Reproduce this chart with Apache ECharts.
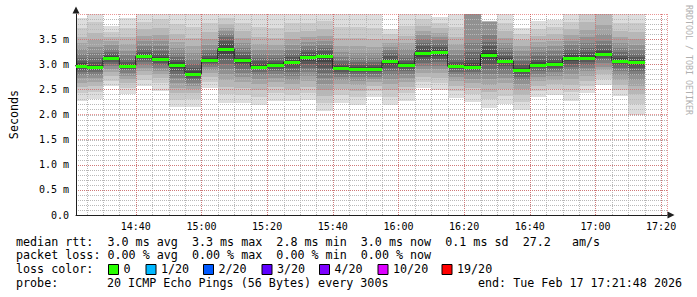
<!DOCTYPE html>
<html><head><meta charset="utf-8">
<script src="https://cdn.jsdelivr.net/npm/echarts@6/dist/echarts.min.js"></script>
<style>html,body{margin:0;padding:0;background:#fff}#c{width:697px;height:297px}</style>
</head><body><div id="c"></div>
<script>
// ---- data ----
const binEnd = ['14:25','14:30','14:35','14:40','14:45','14:50','14:55','15:00','15:05','15:10','15:15','15:20','15:25','15:30','15:35','15:40','15:45','15:50','15:55','16:00','16:05','16:10','16:15','16:20','16:25','16:30','16:35','16:40','16:45','16:50','16:55','17:00','17:05','17:10','17:15'];
const medians = [2.97,2.94,3.12,2.97,3.16,3.10,2.98,2.81,3.08,3.31,3.08,2.95,2.99,3.04,3.14,3.16,2.92,2.90,2.90,3.06,2.98,3.23,3.25,2.96,2.95,3.19,3.07,2.88,2.99,3.00,3.12,3.13,3.21,3.07,3.04];
const pings = [
[2.27,2.42,2.55,2.63,2.72,2.78,2.84,2.89,2.93,2.96,2.98,3.02,3.06,3.12,3.20,3.30,3.42,3.55,3.72,3.92],
[2.31,2.45,2.56,2.65,2.72,2.79,2.84,2.88,2.91,2.93,2.95,2.99,3.05,3.13,3.22,3.34,3.48,3.62,3.85,4.15],
[2.56,2.66,2.76,2.84,2.90,2.96,3.00,3.04,3.08,3.11,3.13,3.16,3.20,3.25,3.31,3.38,3.46,3.54,3.64,3.77],
[2.41,2.52,2.62,2.70,2.77,2.83,2.88,2.91,2.94,2.96,2.98,3.01,3.05,3.11,3.18,3.27,3.40,3.55,3.72,3.93],
[2.56,2.68,2.78,2.86,2.93,2.99,3.04,3.09,3.12,3.15,3.17,3.20,3.24,3.30,3.37,3.46,3.57,3.70,3.85,4.05],
[2.47,2.62,2.72,2.80,2.87,2.93,2.98,3.02,3.06,3.09,3.11,3.15,3.20,3.27,3.36,3.46,3.58,3.72,3.90,4.10],
[2.14,2.28,2.42,2.53,2.63,2.72,2.80,2.87,2.92,2.96,3.00,3.04,3.09,3.15,3.23,3.32,3.44,3.60,3.80,4.10],
[2.14,2.30,2.42,2.50,2.57,2.63,2.68,2.73,2.77,2.80,2.82,2.86,2.92,3.00,3.10,3.22,3.36,3.52,3.75,4.10],
[2.53,2.64,2.74,2.82,2.88,2.94,2.99,3.03,3.06,3.07,3.09,3.12,3.16,3.22,3.29,3.38,3.50,3.64,3.82,4.10],
[2.23,2.40,2.55,2.68,2.80,2.90,3.00,3.10,3.20,3.28,3.33,3.40,3.47,3.54,3.60,3.66,3.72,3.80,3.92,4.15],
[2.23,2.38,2.52,2.64,2.74,2.83,2.91,2.98,3.03,3.07,3.09,3.13,3.18,3.25,3.33,3.42,3.53,3.66,3.82,4.05],
[2.19,2.34,2.48,2.60,2.70,2.78,2.85,2.90,2.93,2.94,2.96,3.00,3.06,3.13,3.20,3.29,3.40,3.55,3.75,4.05],
[2.27,2.42,2.55,2.65,2.73,2.80,2.86,2.91,2.95,2.98,3.00,3.03,3.07,3.12,3.19,3.28,3.39,3.53,3.72,4.05],
[2.27,2.38,2.50,2.60,2.68,2.76,2.84,2.92,2.98,3.03,3.05,3.09,3.14,3.20,3.28,3.38,3.50,3.64,3.82,4.05],
[2.29,2.42,2.55,2.66,2.76,2.85,2.93,3.00,3.07,3.12,3.15,3.19,3.24,3.30,3.37,3.45,3.55,3.67,3.83,4.05],
[2.07,2.22,2.36,2.48,2.60,2.72,2.83,2.93,3.05,3.14,3.17,3.21,3.26,3.32,3.39,3.47,3.57,3.70,3.86,4.10],
[2.23,2.38,2.50,2.60,2.68,2.75,2.80,2.85,2.89,2.91,2.93,2.96,3.00,3.06,3.14,3.24,3.36,3.52,3.74,4.05],
[2.19,2.34,2.47,2.58,2.67,2.74,2.80,2.84,2.87,2.89,2.91,2.94,2.99,3.05,3.13,3.23,3.36,3.52,3.74,4.05],
[2.34,2.46,2.56,2.64,2.70,2.75,2.80,2.84,2.87,2.89,2.91,2.94,2.98,3.04,3.12,3.22,3.35,3.50,3.72,4.05],
[2.19,2.35,2.48,2.60,2.70,2.78,2.86,2.93,2.99,3.04,3.07,3.11,3.16,3.22,3.28,3.35,3.43,3.51,3.60,3.70],
[2.27,2.42,2.55,2.65,2.73,2.80,2.86,2.91,2.95,2.97,2.99,3.02,3.06,3.12,3.20,3.30,3.42,3.57,3.76,4.05],
[2.53,2.64,2.74,2.83,2.90,2.96,3.02,3.08,3.14,3.20,3.25,3.30,3.36,3.43,3.50,3.58,3.67,3.77,3.90,4.05],
[2.49,2.62,2.73,2.82,2.90,2.97,3.04,3.10,3.16,3.22,3.26,3.30,3.35,3.41,3.48,3.55,3.63,3.72,3.83,3.95],
[2.33,2.46,2.57,2.66,2.74,2.80,2.85,2.90,2.93,2.95,2.97,3.00,3.05,3.11,3.19,3.28,3.40,3.55,3.75,4.05],
[2.25,2.40,2.52,2.62,2.71,2.78,2.84,2.89,2.92,2.94,2.96,3.02,3.12,3.25,3.42,4.30,4.60,5.00,5.50,6.00],
[2.13,2.30,2.45,2.58,2.70,2.80,2.90,3.00,3.08,3.16,3.22,3.28,3.36,3.45,3.58,3.84,3.85,3.86,3.865,3.87],
[2.21,2.36,2.50,2.62,2.72,2.81,2.89,2.96,3.02,3.06,3.08,3.12,3.17,3.24,3.32,3.42,3.53,3.66,3.82,4.00],
[2.09,2.24,2.38,2.50,2.60,2.68,2.75,2.80,2.84,2.87,2.89,2.93,2.99,3.07,3.16,3.26,3.37,3.48,3.60,3.73],
[2.34,2.46,2.57,2.66,2.74,2.81,2.87,2.92,2.95,2.98,3.00,3.04,3.09,3.16,3.24,3.34,3.45,3.57,3.70,3.86],
[2.38,2.50,2.60,2.69,2.77,2.84,2.89,2.93,2.97,2.99,3.01,3.05,3.10,3.17,3.26,3.36,3.47,3.60,3.74,3.88],
[2.27,2.44,2.58,2.70,2.80,2.88,2.95,3.01,3.06,3.10,3.14,3.18,3.23,3.30,3.38,3.47,3.58,3.70,3.85,4.05],
[2.43,2.56,2.67,2.77,2.86,2.93,2.99,3.05,3.09,3.12,3.14,3.18,3.24,3.32,3.42,3.54,3.68,3.85,4.05,4.30],
[2.59,2.70,2.80,2.88,2.95,3.02,3.08,3.13,3.17,3.20,3.22,3.26,3.31,3.38,3.47,3.60,3.78,4.10,4.40,4.80],
[2.36,2.48,2.59,2.69,2.78,2.86,2.93,2.99,3.03,3.06,3.08,3.12,3.17,3.24,3.32,3.42,3.54,3.67,3.83,4.05],
[1.99,2.20,2.40,2.56,2.68,2.78,2.86,2.93,2.98,3.02,3.05,3.09,3.14,3.21,3.29,3.39,3.50,3.64,3.82,4.05]
];
const xTickLabels = ['14:40','15:00','15:20','15:40','16:00','16:20','16:40','17:00','17:20'];
const yTickLabels = ['0.0','0.5 m','1.0 m','1.5 m','2.0 m','2.5 m','3.0 m','3.5 m'];
const endTime = '17:21:48';
const windowMinutes = 180;
const binMinutes = 5;
const minorXStep = 5, minorYStep = 0.1;
const rttStats = ['3.0 ms avg','3.3 ms max','2.8 ms min','3.0 ms now','0.1 ms sd','27.2   am/s'];
const lossStats = ['0.00 % avg','0.00 % max','0.00 % min','0.00 % now'];
const lossLabels = ['0','1/20','2/20','3/20','4/20','10/20','19/20'];
const lossColors = ['#26ff00','#00b8ff','#0059ff','#5e00ff','#7e00ff','#dd00ff','#ff0000'];
const probeText = '20 ICMP Echo Pings (56 Bytes) every 300s';
const endText = 'end: Tue Feb 17 17:21:48 2026';
const yName = 'Seconds';
const watermark = 'RRDTOOL / TOBI OETIKER';

// ---- helpers ----
function toMin(s){const p=s.split(':').map(Number);return p[0]*60+p[1]+(p[2]||0)/60;}
function fmtMin(v){const h=Math.floor(v/60),m=Math.round(v-h*60);return String(h).padStart(2,'0')+':'+String(m).padStart(2,'0');}
const xMax = toMin(endTime), xMin = xMax - windowMinutes;
const yMin = 0, yMax = 4;
const MONO = '"DejaVu Sans Mono", monospace';

const smokeData = binEnd.map((e,i)=>[toMin(e)-binMinutes, toMin(e)].concat(pings[i]));
const medData = binEnd.map((e,i)=>[toMin(e)-binMinutes, toMin(e), medians[i]]);
const stepData = [];
binEnd.forEach((e,i)=>{stepData.push([toMin(e)-binMinutes, medians[i]]);stepData.push([toMin(e), medians[i]]);});

// minor grid positions (grid, not data)
const minorV = [], minorH = [];
for(let t=Math.ceil(xMin/minorXStep)*minorXStep; t<xMax; t+=minorXStep) minorV.push([t, 2]);
for(let k=1; k*minorYStep<yMax-1e-9; k++) minorH.push([900, +(k*minorYStep).toFixed(2)]);

function clipBox(x0,y0,x1,y1,cs){
  const L=cs.x,T=cs.y,R=cs.x+cs.width,B=cs.y+cs.height;
  const a=Math.max(Math.min(x0,x1),L), b=Math.min(Math.max(x0,x1),R);
  const c=Math.max(Math.min(y0,y1),T), d=Math.min(Math.max(y0,y1),B);
  if(b<=a||d<=c) return null;
  return {x:a,y:c,width:b-a,height:d-c};
}

const chart = echarts.init(document.getElementById('c'), null, {renderer:'svg'});
const legendFont = '11.7px ' + MONO;
const rowY = [241.5, 255.3, 269, 282.7];
const graphics = [];
graphics.push({type:'text', x:16, y:rowY[0], style:{text:'median rtt:  '+rttStats.join('  '), font:legendFont, fill:'#000', textVerticalAlign:'middle'}});
graphics.push({type:'text', x:16, y:rowY[1], style:{text:'packet loss: '+lossStats.join('  '), font:legendFont, fill:'#000', textVerticalAlign:'middle'}});
graphics.push({type:'text', x:16, y:rowY[2], style:{text:'loss color:', font:legendFont, fill:'#000', textVerticalAlign:'middle'}});
const swX = [108.5,146,203.5,262,319.5,378,442];
lossLabels.forEach((l,i)=>{
  graphics.push({type:'rect', shape:{x:swX[i], y:264.5, width:10, height:10}, style:{fill:lossColors[i], stroke:'#000', lineWidth:1}});
  graphics.push({type:'text', x:swX[i]+15, y:rowY[2], style:{text:l, font:legendFont, fill:'#000', textVerticalAlign:'middle'}});
});
graphics.push({type:'text', x:16, y:rowY[3], style:{text:'probe:', font:legendFont, fill:'#000', textVerticalAlign:'middle'}});
graphics.push({type:'text', x:107, y:rowY[3], style:{text:probeText, font:legendFont, fill:'#000', textVerticalAlign:'middle'}});
graphics.push({type:'text', x:478, y:rowY[3], style:{text:endText, font:legendFont, fill:'#000', textVerticalAlign:'middle'}});
graphics.push({type:'text', x:688.5, y:5, rotation:-Math.PI/2, style:{text:watermark, font:'8.3px '+MONO, fill:'#b0b0b0', textVerticalAlign:'middle', textAlign:'left'}});

const gridColor = '#b8b8b8';
const mgridColor = 'rgba(222,79,79,0.6)';

function gridLineItem(vertical){
  return (params, api)=>{
    const cs=params.coordSys; const p=api.coord([api.value(0), api.value(1)]);
    let shape;
    if(vertical){ const x=Math.round(p[0])+0.5; shape={x1:x,y1:cs.y,x2:x,y2:cs.y+cs.height}; }
    else { const y=Math.round(p[1])+0.5; shape={x1:cs.x,y1:y,x2:cs.x+cs.width,y2:y}; }
    return {type:'line', shape, style:{stroke:gridColor, lineWidth:1, lineDash:[1,1]}};
  };
}

chart.setOption({
  animation:false,
  backgroundColor:'#fff',
  grid:{left:67, top:14, right:30, bottom:82},
  xAxis:{
    type:'value', min:xMin, max:xMax, splitNumber:9, minInterval:20, maxInterval:20, z:4,
    axisLine:{show:true, onZero:false, symbol:['none','triangle'], symbolSize:[7,7], symbolOffset:[0,4], lineStyle:{color:'#1f1f1f', width:1}},
    axisTick:{show:false},
    axisLabel:{show:true, margin:6, fontSize:10, fontFamily:MONO, color:'#000',
      formatter:v=>{const s=fmtMin(v);return (Math.abs(v-Math.round(v))<1e-6 && xTickLabels.indexOf(s)>=0)?s:'';}},
    splitLine:{show:true, lineStyle:{color:mgridColor, type:[1,1], width:1}}
  },
  yAxis:{
    type:'value', min:yMin, max:yMax, interval:0.5, z:4,
    name:yName, nameLocation:'middle', nameGap:56, nameTextStyle:{fontFamily:MONO, fontSize:11.7, color:'#000'},
    axisLine:{show:true, onZero:false, symbol:['none','triangle'], symbolSize:[7,7], symbolOffset:[0,4], lineStyle:{color:'#1f1f1f', width:1}},
    axisTick:{show:false},
    axisLabel:{margin:7, fontSize:10, fontFamily:MONO, color:'#000',
      formatter:v=>{const i=Math.round(v/0.5);return (Math.abs(v-i*0.5)<1e-6 && i<yTickLabels.length)?yTickLabels[i]:'';}},
    splitLine:{show:true, lineStyle:{color:mgridColor, type:[1,1], width:1}}
  },
  series:[{
    type:'custom', z:2, data:smokeData,
    encode:{x:[0,1], y:[2,3,4,5,6,7,8,9,10,11,12,13,14,15,16,17,18,19,20,21]},
    renderItem:(params, api)=>{
      const cs=params.coordSys; const s=api.value(0), e=api.value(1);
      const children=[];
      for(let band=1; band<=10; band++){
        const lo=api.value(2+band-1), hi=api.value(2+20-band);
        const p1=api.coord([s,hi]), p2=api.coord([e,lo]);
        const r=clipBox(Math.round(p1[0]),Math.round(p1[1]),Math.round(p2[0]),Math.round(p2[1]),cs);
        const c=Math.floor(190/10*(10-band))+50;
        if(r) children.push({type:'rect', shape:r, style:{fill:'rgb('+c+','+c+','+c+')'}});
      }
      return {type:'group', children};
    }
  },{
    type:'custom', z:3, silent:true, data:minorV, encode:{x:0, y:1}, renderItem:gridLineItem(true)
  },{
    type:'custom', z:3, silent:true, data:minorH, encode:{x:0, y:1}, renderItem:gridLineItem(false)
  },{
    type:'line', z:6, data:stepData, symbol:'none', lineStyle:{color:'#202020', width:1}, clip:true, silent:true
  },{
    type:'custom', z:7, data:medData, encode:{x:[0,1], y:2},
    renderItem:(params, api)=>{
      const cs=params.coordSys;
      const p1=api.coord([api.value(0),api.value(2)]), p2=api.coord([api.value(1),api.value(2)]);
      const cy=Math.round(p1[1]);
      const r=clipBox(Math.round(p1[0]),cy-1,Math.round(p2[0]),cy+2,cs);
      return r?{type:'rect', shape:r, style:{fill:lossColors[0]}}:null;
    }
  }],
  graphic:graphics
});
</script></body></html>
